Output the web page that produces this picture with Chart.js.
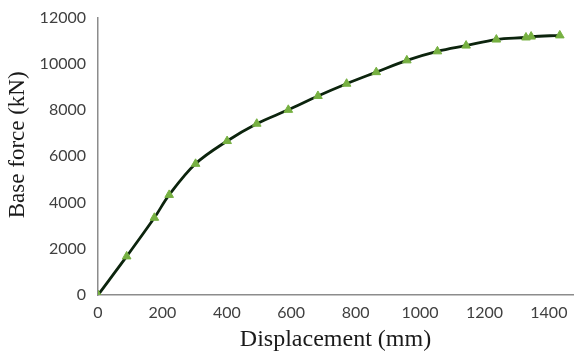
<!DOCTYPE html>
<html>
<head>
<meta charset="utf-8">
<script src="https://cdn.jsdelivr.net/npm/chart.js@4"></script>
<style>
  html, body { margin: 0; padding: 0; background: #ffffff; overflow: hidden; }
  #wrap { width: 579px; height: 356px; }
</style>
</head>
<body>
<div id="wrap"><canvas id="pushover" width="579" height="356"></canvas></div>
<script>
// Dados da curva
var deslocamento = [0, 89, 175, 221, 303, 401, 493, 591, 683, 772, 864, 959, 1054, 1143, 1237, 1329, 1345, 1434];
var forcaBase = [0, 1670, 3340, 4330, 5675, 6660, 7410, 8010, 8610, 9140, 9640, 10150, 10540, 10790, 11050, 11140, 11180, 11230];
var ticksX = [0, 200, 400, 600, 800, 1000, 1200, 1400];
var ticksY = [0, 2000, 4000, 6000, 8000, 10000, 12000];

window.onload = function () {
    graficoPushover();
}

function graficoPushover() {
    var pontos = deslocamento.map(function (d, i) {
        return { x: d, y: forcaBase[i] };
    });
    var ctx = document.getElementById("pushover").getContext("2d");
    new Chart(ctx, {
        type: "scatter",
        data: {
            datasets: [
                {
                    data: pontos,
                    showLine: true,
                    tension: 0.35,
                    borderColor: '#0c240d',
                    borderWidth: 2.8,
                    pointStyle: 'triangle',
                    pointRadius: 5,
                    pointBackgroundColor: '#76b041',
                    pointBorderColor: '#76b041',
                    pointBorderWidth: 1
                }
            ]
        },
        options: {
            responsive: false,
            animation: false,
            layout: { padding: { top: 0, right: 0, left: 4, bottom: 2 } },
            plugins: {
                legend: { display: false },
                tooltip: { enabled: false }
            },
            scales: {
                x: {
                    type: 'linear',
                    min: 0,
                    max: 1475,
                    afterBuildTicks: function (scale) {
                        scale.ticks = ticksX.map(function (v) { return { value: v }; });
                    },
                    grid: { display: false, drawTicks: false },
                    border: { display: true, color: '#8c8c8c', width: 1.5 },
                    ticks: {
                        color: '#404040',
                        padding: 8,
                        maxRotation: 0,
                        callback: function (v) { return String(v); },
                        font: { family: 'Lato, "Open Sans", sans-serif', size: 16 }
                    },
                    title: {
                        display: true,
                        text: 'Displacement (mm)',
                        color: '#1a1a1a',
                        padding: { top: -5, bottom: 0 },
                        font: { family: '"Liberation Serif", "Times New Roman", serif', size: 24 }
                    }
                },
                y: {
                    min: 0,
                    max: 12000,
                    afterBuildTicks: function (scale) {
                        scale.ticks = ticksY.map(function (v) { return { value: v }; });
                    },
                    grid: { display: false, drawTicks: false },
                    border: { display: true, color: '#8c8c8c', width: 1.5 },
                    ticks: {
                        color: '#404040',
                        padding: 12,
                        callback: function (v) { return String(v); },
                        font: { family: 'Lato, "Open Sans", sans-serif', size: 16, lineHeight: 0.7 }
                    },
                    title: {
                        display: true,
                        text: '    Base force (kN)',
                        color: '#1a1a1a',
                        padding: { top: 0, bottom: -4 },
                        font: { family: '"Liberation Serif", "Times New Roman", serif', size: 23 }
                    }
                }
            }
        }
    });
}
</script>
</body>
</html>
